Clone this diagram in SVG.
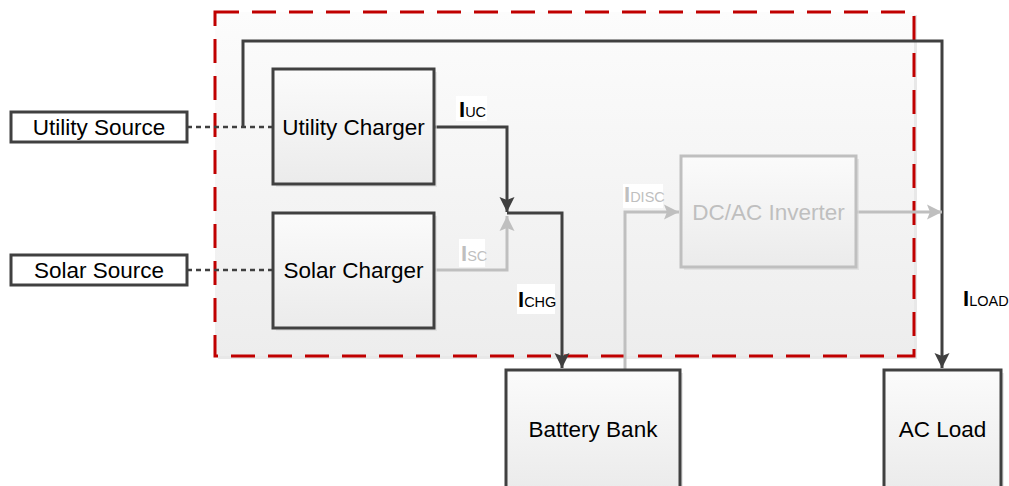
<svg xmlns="http://www.w3.org/2000/svg" width="1009" height="486" viewBox="0 0 1009 486">
  <defs>
    <linearGradient id="gBox" x1="0" y1="0" x2="0" y2="1">
      <stop offset="0" stop-color="#fbfbfb"/>
      <stop offset="1" stop-color="#ebebeb"/>
    </linearGradient>
    <linearGradient id="gArea" x1="0" y1="0" x2="0" y2="1">
      <stop offset="0" stop-color="#fcfcfc"/>
      <stop offset="1" stop-color="#ededed"/>
    </linearGradient>
    <marker id="arrDark" markerUnits="userSpaceOnUse" markerWidth="16" markerHeight="16" viewBox="-15 -8 16 16" refX="0" refY="0" orient="auto">
      <path d="M0,0 L-15,-7.5 L-12,0 L-15,7.5 Z" fill="#404040"/>
    </marker>
    <marker id="arrGray" markerUnits="userSpaceOnUse" markerWidth="16" markerHeight="16" viewBox="-15 -8 16 16" refX="0" refY="0" orient="auto">
      <path d="M0,0 L-15,-7.5 L-12,0 L-15,7.5 Z" fill="#bfbfbf"/>
    </marker>
  </defs>
  <style>
    .box { fill: url(#gBox); stroke: #404040; stroke-width: 3; }
    .src { fill: #ffffff; stroke: #404040; stroke-width: 3; }
    .gbox { fill: url(#gBox); stroke: #bfbfbf; stroke-width: 3; }
    .shadow { fill: #d9d9d9; opacity: 0.6; }
    .lbl { font-family: "Liberation Sans", Arial, sans-serif; font-size: 22.5px; fill: #000000; text-anchor: middle; dominant-baseline: central; }
    .glbl { fill: #bfbfbf; }
    .wire { fill: none; stroke: #404040; stroke-width: 3; }
    .gwire { fill: none; stroke: #bfbfbf; stroke-width: 3; }
    .dot { fill: none; stroke: #404040; stroke-width: 2.5; stroke-dasharray: 5 4; }
    .cur { font-family: "Liberation Sans", Arial, sans-serif; fill: #000000; }
    .big { font-size: 22px; font-weight: bold; }
    .sub { font-size: 14.5px; }
    .gcur { fill: #bfbfbf; }
    .bg { fill: #ffffff; }
  </style>

  <g id="container">
    <rect x="218" y="15" width="699" height="344" class="shadow"/>
    <rect x="215" y="12" width="699" height="344" fill="url(#gArea)" stroke="#c00000" stroke-width="3" stroke-dasharray="24 13"/>
  </g>

  <g id="connectors">
    <line x1="187" y1="127" x2="273" y2="127" class="dot"/>
    <line x1="187" y1="270" x2="273" y2="270" class="dot"/>
    <polyline points="243,127 243,41 942,41 942,368" class="wire" marker-end="url(#arrDark)"/>
    <polyline points="434,127 507,127 507,212" class="wire" marker-end="url(#arrDark)"/>
    <polyline points="434,270 507,270 507,216" class="gwire" marker-end="url(#arrGray)"/>
    <polyline points="507,213 562,213 562,368" class="wire" marker-end="url(#arrDark)"/>
    <polyline points="625,370 625,212 679,212" class="gwire" marker-end="url(#arrGray)"/>
    <polyline points="856,212 942,212" class="gwire" marker-end="url(#arrGray)"/>

    <g id="label-iuc">
      <rect x="456" y="96" width="31" height="25" class="bg"/>
      <text x="459" y="117" class="cur"><tspan class="big">I</tspan><tspan class="sub">UC</tspan></text>
    </g>
    <g id="label-isc">
      <rect x="459" y="239" width="26" height="28" class="bg"/>
      <text x="461" y="261" class="cur gcur"><tspan class="big">I</tspan><tspan class="sub">SC</tspan></text>
    </g>
    <g id="label-ichg">
      <rect x="517" y="284" width="38" height="30" class="bg"/>
      <text x="518" y="307" class="cur"><tspan class="big">I</tspan><tspan class="sub">CHG</tspan></text>
    </g>
    <g id="label-idisc">
      <rect x="623" y="184" width="40" height="24" class="bg"/>
      <text x="624" y="202" class="cur gcur"><tspan class="big">I</tspan><tspan class="sub">DISC</tspan></text>
    </g>
    <g id="label-iload">
      <text x="963" y="306" class="cur"><tspan class="big" font-weight="normal">I</tspan><tspan class="sub">LOAD</tspan></text>
    </g>
  </g>

  <g id="utility-source">
    <rect x="11" y="112" width="176" height="30" class="src"/>
    <text x="99" y="127" class="lbl">Utility Source</text>
  </g>
  <g id="solar-source">
    <rect x="11" y="255" width="176" height="30" class="src"/>
    <text x="99" y="270" class="lbl">Solar Source</text>
  </g>
  <g id="utility-charger">
    <rect x="276" y="72" width="161" height="115" class="shadow"/>
    <rect x="273" y="69" width="161" height="115" class="box"/>
    <text x="353.5" y="127" class="lbl">Utility Charger</text>
  </g>
  <g id="solar-charger">
    <rect x="276" y="216" width="161" height="115" class="shadow"/>
    <rect x="273" y="213" width="161" height="115" class="box"/>
    <text x="353.5" y="270" class="lbl">Solar Charger</text>
  </g>
  <g id="inverter">
    <rect x="684" y="159" width="175" height="111" class="shadow"/>
    <rect x="681" y="156" width="175" height="111" class="gbox"/>
    <text x="768.5" y="212" class="lbl glbl">DC/AC Inverter</text>
  </g>
  <g id="battery-bank">
    <rect x="509" y="373" width="174" height="120" class="shadow"/>
    <rect x="506" y="370" width="174" height="120" class="box"/>
    <text x="593" y="429" class="lbl">Battery Bank</text>
  </g>
  <g id="ac-load">
    <rect x="887" y="373" width="117" height="120" class="shadow"/>
    <rect x="884" y="370" width="117" height="120" class="box"/>
    <text x="942.5" y="429" class="lbl">AC Load</text>
  </g>
</svg>
